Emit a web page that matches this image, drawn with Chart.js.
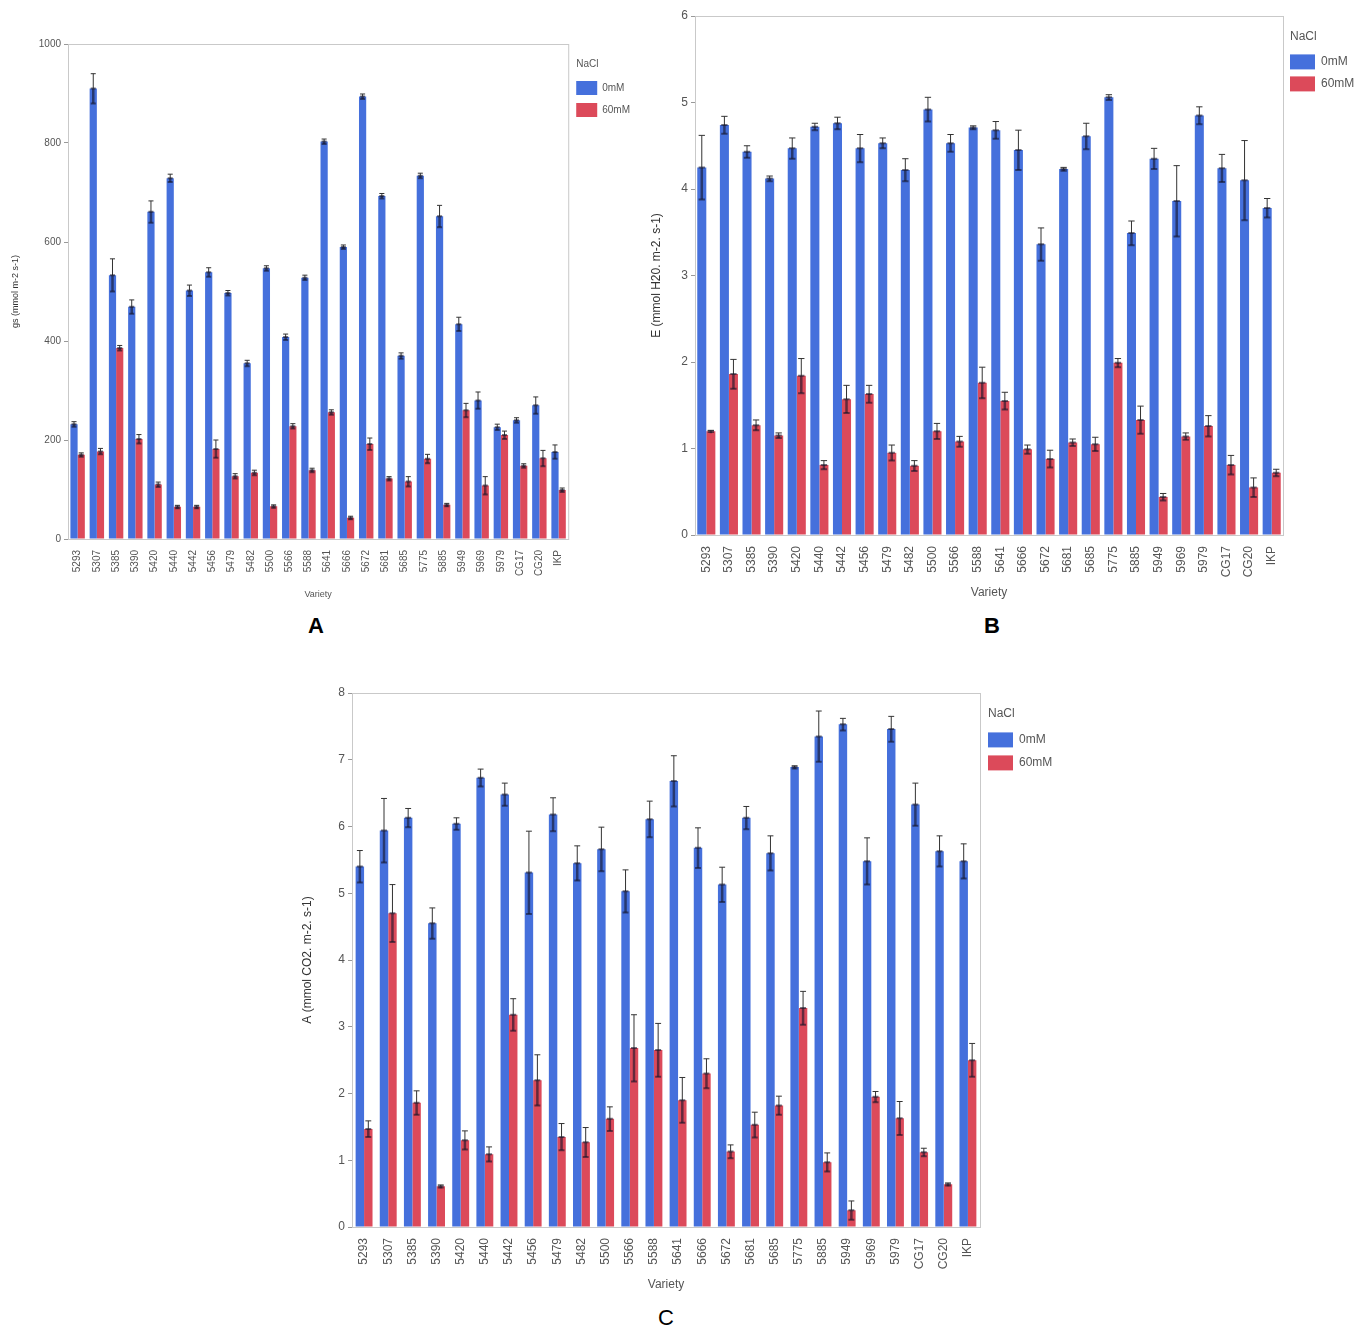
<!DOCTYPE html>
<html>
<head>
<meta charset="utf-8">
<script src="https://cdn.jsdelivr.net/npm/chart.js@4.4.1/dist/chart.umd.min.js"></script>
<style>
    body { margin: 0; background: #fff; width: 1362px; height: 1331px; position: relative; overflow: hidden; font-family: "Liberation Sans", Arial, sans-serif; }
    canvas { position: absolute; }
    .tag { position: absolute; color: #000; transform: translate(-50%, -50%); font-size: 22px; }
</style>
</head>
<body>
<canvas id="chartA" width="640" height="575" style="left:0px; top:30px;"></canvas>
<canvas id="chartB" width="722" height="603" style="left:640px; top:0px;"></canvas>
<canvas id="chartC" width="770" height="615" style="left:290px; top:680px;"></canvas>
<div class="tag" style="left:316px; top:626px; font-weight:bold;">A</div>
<div class="tag" style="left:992px; top:626px; font-weight:bold;">B</div>
<div class="tag" style="left:666px; top:1318px;">C</div>

<script>
// varieties (x categories)
const varieties = ['5293', '5307', '5385', '5390', '5420', '5440', '5442', '5456', '5479', '5482', '5500', '5566', '5588',
    '5641', '5666', '5672', '5681', '5685', '5775', '5885', '5949', '5969', '5979', 'CG17', 'CG20', 'IKP'];
const treatments = ['0mM', '60mM'];

// A - stomatal conductance gs
const gs0 = [232, 910, 533, 469, 661, 729, 502, 539, 497, 355, 547, 408, 528, 803, 590, 894, 693, 370, 734, 652, 434, 280, 226, 240, 270, 176];
const gs0Err = [5, 30, 33, 14, 22, 8, 11, 9, 5, 6, 5, 6, 5, 5, 4, 5, 5, 6, 5, 22, 14, 17, 6, 5, 17, 14];
const gs60 = [170, 177, 386, 202, 110, 65, 65, 182, 127, 134, 66, 228, 139, 256, 43, 192, 122, 116, 162, 69, 260, 108, 210, 148, 163, 99];
const gs60Err = [4, 6, 5, 9, 5, 3, 3, 18, 5, 5, 3, 5, 4, 5, 3, 12, 4, 10, 9, 3, 14, 18, 8, 4, 16, 4];

// B - transpiration E
const e0 = [4.25, 4.74, 4.43, 4.12, 4.47, 4.72, 4.76, 4.47, 4.53, 4.22, 4.92, 4.53, 4.71, 4.68, 4.45, 3.36, 4.23, 4.61, 5.06, 3.49, 4.35, 3.86, 4.85, 4.24, 4.10, 3.78];
const e0Err = [0.37, 0.10, 0.07, 0.03, 0.12, 0.04, 0.07, 0.16, 0.06, 0.13, 0.14, 0.10, 0.02, 0.10, 0.23, 0.19, 0.02, 0.15, 0.03, 0.14, 0.12, 0.41, 0.10, 0.16, 0.46, 0.11];
const e60 = [1.20, 1.86, 1.27, 1.15, 1.84, 0.81, 1.57, 1.63, 0.95, 0.80, 1.20, 1.08, 1.76, 1.55, 0.99, 0.88, 1.07, 1.05, 1.99, 1.33, 0.44, 1.14, 1.26, 0.81, 0.55, 0.72];
const e60Err = [0.01, 0.17, 0.06, 0.03, 0.20, 0.05, 0.16, 0.10, 0.09, 0.06, 0.09, 0.06, 0.18, 0.10, 0.05, 0.10, 0.04, 0.08, 0.05, 0.16, 0.04, 0.04, 0.12, 0.11, 0.11, 0.04];

// C - net assimilation A
const a0 = [5.40, 5.94, 6.13, 4.55, 6.04, 6.73, 6.48, 5.31, 6.18, 5.45, 5.66, 5.03, 6.11, 6.68, 5.68, 5.13, 6.13, 5.60, 6.89, 7.35, 7.53, 5.48, 7.46, 6.33, 5.63, 5.48];
const a0Err = [0.24, 0.48, 0.14, 0.23, 0.09, 0.13, 0.17, 0.62, 0.25, 0.26, 0.33, 0.32, 0.27, 0.38, 0.30, 0.26, 0.17, 0.26, 0.02, 0.38, 0.09, 0.35, 0.19, 0.32, 0.23, 0.26];
const a60 = [1.47, 4.70, 1.86, 0.61, 1.30, 1.09, 3.18, 2.20, 1.35, 1.27, 1.62, 2.68, 2.65, 1.90, 2.30, 1.13, 1.53, 1.82, 3.28, 0.97, 0.25, 1.95, 1.63, 1.12, 0.64, 2.50];
const a60Err = [0.12, 0.43, 0.18, 0.02, 0.14, 0.11, 0.24, 0.38, 0.20, 0.22, 0.18, 0.50, 0.40, 0.34, 0.22, 0.10, 0.19, 0.14, 0.25, 0.14, 0.14, 0.08, 0.25, 0.06, 0.02, 0.25];

const BLUE = '#4570dc';
const RED = '#dc4a5a';
const TXT = '#555';
const LEGEND_TITLE = 'NaCl';

// light grey box round the plot area
const frame = {
    id: 'frame',
    afterDraw(chart) {
        const a = chart.chartArea, ctx = chart.ctx;
        ctx.save();
        ctx.strokeStyle = '#c9c9c9';
        ctx.lineWidth = 1;
        ctx.strokeRect(a.left + 0.5, a.top + 0.5, a.right - a.left, a.bottom - a.top);
        ctx.restore();
    }
};

// legend title lined up with the colour boxes (chart.js puts it flush left)
const legendTitle = {
    id: 'legendTitle',
    afterDraw(chart) {
        const lg = chart.legend, opts = lg.options;
        const size = opts.title.font.size;
        const ctx = chart.ctx;
        ctx.save();
        ctx.fillStyle = TXT;
        ctx.font = size + 'px "Liberation Sans", Arial, sans-serif';
        ctx.textBaseline = 'middle';
        ctx.textAlign = 'left';
        ctx.fillText(LEGEND_TITLE, lg.left + opts.labels.padding, lg.top + opts.title.padding.top + size / 2);
        ctx.restore();
    }
};

// JMP style error bars : thin whisker up, dark mark down into the bar
const errorBars = {
    id: 'errorBars',
    afterDatasetsDraw(chart) {
        const ctx = chart.ctx, y = chart.scales.y;
        chart.data.datasets.forEach((ds, i) => {
            chart.getDatasetMeta(i).data.forEach((bar, j) => {
                const v = ds.data[j], e = ds.errors[j];
                const top = y.getPixelForValue(v + e);
                const mid = y.getPixelForValue(v);
                const bot = y.getPixelForValue(v - e);
                const x = bar.x, hw = bar.width * 0.35;
                ctx.save();
                ctx.strokeStyle = '#333';
                ctx.lineWidth = 1;
                ctx.beginPath();
                ctx.moveTo(x, mid); ctx.lineTo(x, top);
                ctx.moveTo(x - hw, top); ctx.lineTo(x + hw, top);
                ctx.stroke();
                ctx.strokeStyle = 'rgba(20,20,40,0.6)';
                ctx.lineWidth = 2.5;
                ctx.beginPath();
                ctx.moveTo(x, mid); ctx.lineTo(x, Math.max(bot, mid + 2));
                ctx.stroke();
                ctx.lineWidth = 2;
                ctx.beginPath();
                ctx.moveTo(x - hw, mid); ctx.lineTo(x + hw, mid);
                ctx.moveTo(x - hw, bot); ctx.lineTo(x + hw, bot);
                ctx.stroke();
                ctx.restore();
            });
        });
    }
};

function makePanel(id, o) {
    return new Chart(document.getElementById(id), {
        type: 'bar',
        data: {
            labels: varieties,
            datasets: [
                { label: treatments[0], data: o.v0, errors: o.err0, backgroundColor: BLUE,
                  categoryPercentage: o.cat, barPercentage: 1 },
                { label: treatments[1], data: o.v60, errors: o.err60, backgroundColor: RED,
                  categoryPercentage: o.cat, barPercentage: 1 }
            ]
        },
        options: {
            responsive: false,
            animation: false,
            layout: { padding: { top: o.padTop, right: 0, bottom: 0, left: 0 } },
            plugins: {
                tooltip: { enabled: false },
                legend: {
                    position: 'right',
                    align: 'start',
                    maxWidth: o.legendW,
                    // title keeps its room, the text itself is drawn by legendTitle
                    title: { display: true, text: LEGEND_TITLE, color: 'rgba(0,0,0,0)', font: { size: o.legFont },
                             position: 'start', padding: { top: o.titleTop, bottom: 2 } },
                    labels: { boxWidth: o.box[0], boxHeight: o.box[1], color: TXT,
                              font: { size: o.legFont }, padding: o.legPad }
                }
            },
            scales: {
                x: {
                    grid: { display: false },
                    border: { color: '#999' },
                    ticks: { minRotation: 90, maxRotation: 90, autoSkip: false, color: TXT,
                             font: { size: o.xFont }, padding: 3 },
                    title: { display: true, text: 'Variety', color: TXT, font: { size: o.titleFont },
                             padding: { top: 2, bottom: o.xTitlePad } },
                    afterFit(s) { s.height = o.xH; }
                },
                y: {
                    min: 0,
                    max: o.max,
                    ticks: { stepSize: o.step, color: TXT, font: { size: o.yFont }, padding: 3,
                             callback: v => String(v) },
                    grid: { drawOnChartArea: false, tickLength: 4, color: '#999' },
                    border: { color: '#999' },
                    title: { display: true, text: o.yTitle, color: '#333', font: { size: o.titleFont },
                             padding: { top: o.yTitlePad, bottom: 0 } },
                    afterFit(s) { s.width = o.yW; }
                }
            }
        },
        plugins: [frame, errorBars, legendTitle]
    });
}

makePanel('chartA', {
    v0: gs0, err0: gs0Err, v60: gs60, err60: gs60Err, max: 1000, step: 200,
    yTitle: 'gs (mmol m-2 s-1)', cat: 0.75, padTop: 14, yW: 68, xH: 66, legendW: 72,
    legFont: 10, box: [21, 14], legPad: 8, titleTop: 15, xFont: 10, yFont: 10, titleFont: 9,
    xTitlePad: 5, yTitlePad: 10
});

makePanel('chartB', {
    v0: e0, err0: e0Err, v60: e60, err60: e60Err, max: 6, step: 1,
    yTitle: 'E (mmol H20. m-2. s-1)', cat: 0.8, padTop: 16, yW: 55, xH: 68, legendW: 79,
    legFont: 12, box: [25, 15], legPad: 7, titleTop: 15, xFont: 12, yFont: 12, titleFont: 12,
    xTitlePad: 3, yTitlePad: 9
});

makePanel('chartC', {
    v0: a0, err0: a0Err, v60: a60, err60: a60Err, max: 8, step: 1,
    yTitle: 'A (mmol CO2. m-2. s-1)', cat: 0.7, padTop: 13, yW: 62, xH: 68, legendW: 80,
    legFont: 12, box: [25, 15], legPad: 8, titleTop: 15, xFont: 12, yFont: 12, titleFont: 12,
    xTitlePad: 3, yTitlePad: 10
});
</script>
</body>
</html>
